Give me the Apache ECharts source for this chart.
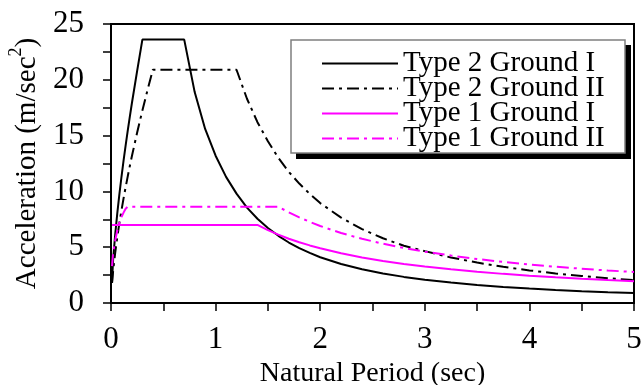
<!DOCTYPE html>
<html>
<head>
<meta charset="utf-8">
<script src="https://cdn.jsdelivr.net/npm/echarts@6/dist/echarts.min.js"></script>
<style>
html,body{margin:0;padding:0;background:#fff;}
#chart{width:641px;height:385px;}
</style>
</head>
<body>
<div id="chart"></div>
<script>
// Natural period (sec)
var periods = [0.01,0.02,0.04,0.06,0.08,0.1,0.12,0.14,0.16,0.18,0.2,0.25,0.3,0.35,0.4,
  0.5,0.6,0.7,0.8,0.9,1.0,1.1,1.2,1.3,1.4,1.5,1.6,1.7,1.8,1.9,2.0,
  2.2,2.4,2.6,2.8,3.0,3.25,3.5,3.75,4.0,4.25,4.5,4.75,5.0];
// Acceleration (m/sec^2)
var type2Ground1 = [1.9,3.86,6.13,8.03,9.73,11.29,12.75,14.13,15.44,16.70,17.92,20.80,23.6,23.6,23.6,
  23.6,23.6,23.6,18.9,15.6,13.2,11.3,9.8,8.55,7.55,6.72,6.02,5.42,4.92,4.49,4.10,
  3.50,3.03,2.65,2.34,2.09,1.83,1.61,1.44,1.29,1.17,1.06,0.97,0.89];
var type2Ground2 = [1.79,2.84,4.50,5.90,7.15,8.29,9.37,10.38,11.35,12.27,13.17,15.28,17.25,19.11,20.9,
  20.9,20.9,20.9,20.9,20.9,20.9,20.9,20.9,18.3,16.2,14.5,13.0,11.75,10.7,9.78,8.95,
  7.65,6.62,5.8,5.13,4.65,4.08,3.62,3.24,2.92,2.65,2.42,2.22,2.05];
var type1Ground1 = [7.0,7.0,7.0,7.0,7.0,7.0,7.0,7.0,7.0,7.0,7.0,7.0,7.0,7.0,7.0,
  7.0,7.0,7.0,7.0,7.0,7.0,7.0,7.0,7.0,7.0,6.53,6.13,5.76,5.44,5.16,4.9,
  4.45,4.08,3.77,3.5,3.27,3.02,2.8,2.61,2.45,2.31,2.18,2.06,1.96];
var type1Ground2 = [3.3,4.5,5.6,6.5,7.2,7.7,8.1,8.45,8.63,8.63,8.63,8.63,8.63,8.63,8.63,
  8.63,8.63,8.63,8.63,8.63,8.63,8.63,8.63,8.63,8.63,8.63,8.63,8.12,7.67,7.27,6.9,
  6.27,5.75,5.31,4.93,4.6,4.25,3.94,3.68,3.45,3.25,3.07,2.91,2.78];
var seriesNames = ['Type 2 Ground I','Type 2 Ground II','Type 1 Ground I','Type 1 Ground II'];
var xTicks = [0,1,2,3,4,5];
var yTicks = [0,5,10,15,20,25];

var FONT = '"Liberation Serif","Times New Roman",serif';
function pairs(vals){ return periods.map(function(p,i){ return [p, vals[i]]; }); }

var chart = echarts.init(document.getElementById('chart'), null, {renderer:'canvas'});
chart.setOption({
  animation:false,
  backgroundColor:'#fff',
  grid:{left:111,right:7,top:24,bottom:82,containLabel:false,outerBoundsMode:'none',
    show:true,borderColor:'#000',borderWidth:2,backgroundColor:'transparent'},
  xAxis:{
    type:'value',min:0,max:5,interval:0.5,
    name:'Natural Period (sec)',nameLocation:'middle',nameGap:45,
    nameTextStyle:{fontFamily:FONT,fontSize:28,color:'#000'},
    axisLine:{lineStyle:{color:'#000',width:2}},
    axisTick:{show:true,inside:false,length:8,lineStyle:{color:'#000',width:1.5}},
    axisLabel:{fontFamily:FONT,fontSize:31,color:'#000',margin:21,
      formatter:function(v){ return xTicks.indexOf(v)>=0 ? String(v) : ''; }},
    splitLine:{show:false}
  },
  yAxis:{
    type:'value',min:0,max:25,interval:2.5,
    name:'{a|Acceleration (m/sec}{s|2}{a|)}',nameLocation:'middle',nameGap:55,
    nameTextStyle:{rich:{
      a:{fontFamily:FONT,fontSize:29,color:'#000',lineHeight:40},
      s:{fontFamily:FONT,fontSize:18,color:'#000',lineHeight:18,verticalAlign:'top'}
    }},
    axisLine:{lineStyle:{color:'#000',width:2}},
    axisTick:{show:true,inside:false,length:8,lineStyle:{color:'#000',width:1.5}},
    axisLabel:{fontFamily:FONT,fontSize:31,color:'#000',margin:27,
      formatter:function(v){ return yTicks.indexOf(v)>=0 ? String(v) : ''; }},
    splitLine:{show:false}
  },
  legend:{
    orient:'vertical',left:321,top:49,padding:0,itemWidth:76,itemHeight:14,itemGap:-4,
    data:seriesNames,
    itemStyle:{opacity:0},
    textStyle:{fontFamily:FONT,fontSize:29,color:'#000',lineHeight:26},
    z:10
  },
  graphic:[
    {type:'rect',z:5,shape:{x:296,y:45,width:335,height:114},style:{fill:'#000'}},
    {type:'rect',z:6,shape:{x:291,y:40,width:334,height:113},style:{fill:'#fff',stroke:'#7f7f7f',lineWidth:1.5}}
  ],
  series:[
    {name:seriesNames[0],type:'line',data:pairs(type2Ground1),symbol:'none',
      lineStyle:{color:'#000',width:2,type:'solid'},itemStyle:{color:'#000'}},
    {name:seriesNames[1],type:'line',data:pairs(type2Ground2),symbol:'none',
      lineStyle:{color:'#000',width:2,type:[12,5,3,5]},itemStyle:{color:'#000'}},
    {name:seriesNames[2],type:'line',data:pairs(type1Ground1),symbol:'none',
      lineStyle:{color:'#ff00ff',width:2,type:'solid'},itemStyle:{color:'#ff00ff'}},
    {name:seriesNames[3],type:'line',data:pairs(type1Ground2),symbol:'none',
      lineStyle:{color:'#ff00ff',width:2,type:[12,5,3,5]},itemStyle:{color:'#ff00ff'}}
  ]
});
</script>
</body>
</html>
